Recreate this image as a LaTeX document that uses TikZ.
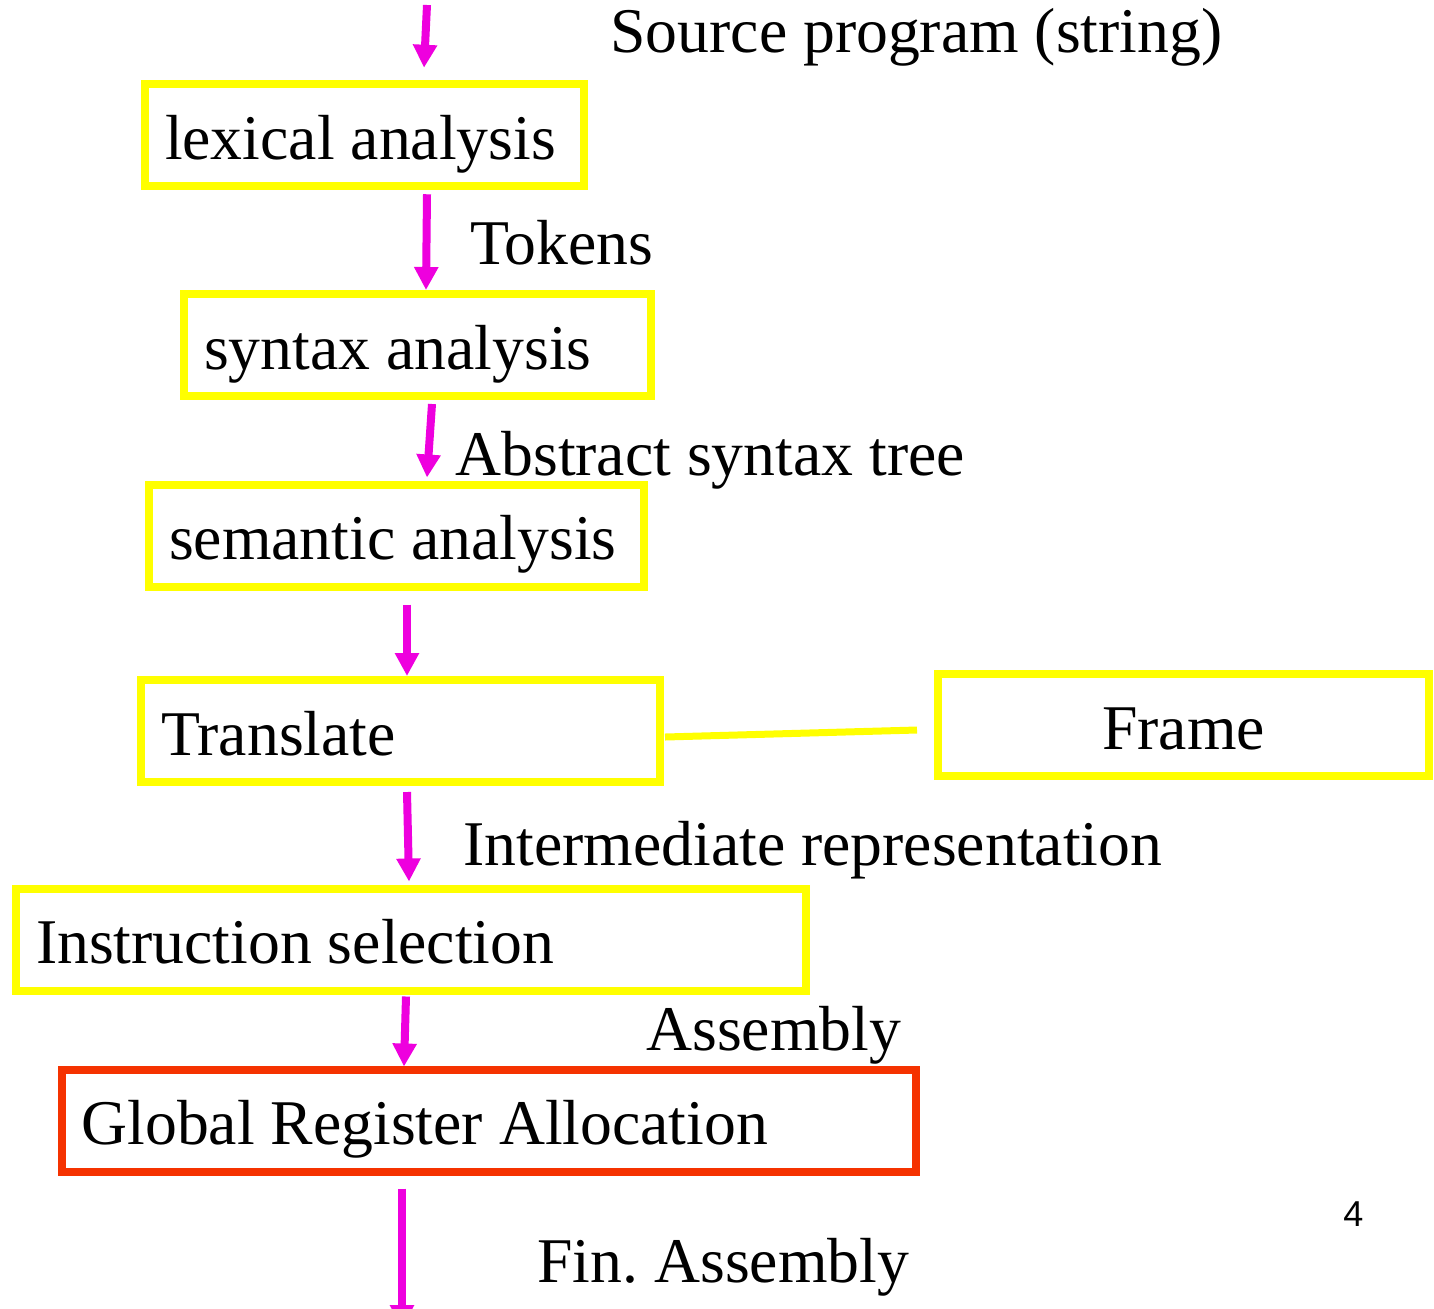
\documentclass[tikz,border=0pt]{standalone}
\usepackage{fontspec}
\setmainfont{Liberation Serif}
\newfontfamily\pagefont{Liberation Sans}
\usetikzlibrary{arrows.meta,calc}
\definecolor{boxyellow}{RGB}{255,255,0}
\definecolor{boxred}{RGB}{245,50,0}
\definecolor{flowmag}{RGB}{238,0,222}
\tikzset{
  stage/.style={draw=boxyellow, line width=4pt, minimum height=51pt, inner xsep=10pt, inner ysep=0pt,
    text height=24pt, text depth=0pt, align=flush left},
  flow/.style={draw=flowmag, line width=4pt, -{Triangle[width=11.5pt,length=11.5pt]}},
  link/.style={draw=boxyellow, line width=3.5pt},
  lbl/.style={anchor=base west, inner sep=0pt},
}
\begin{document}
\frenchspacing
\begin{tikzpicture}[x=0.5pt,y=-0.5pt,font=\fontsize{31.85}{38}\selectfont\frenchspacing]
\useasboundingbox (0,0) rectangle (1434,1308);
\clip (0,0) rectangle (1434,1308);
\fill[white] (0,0) rectangle (1434,1308);

\node[stage, minimum width=219.5pt, text width=199.5pt] (lex) at (364.5,135.25) {lexical analysis};
\node[stage, minimum width=233.5pt, text width=213.5pt] (syn) at (417.5,345) {syntax analysis};
\node[stage, minimum width=247.5pt, text width=227.5pt] (sem) at (396.5,535.5) {semantic analysis};
\node[stage, minimum width=259.5pt, text width=239.5pt] (tr) at (400.5,731) {Translate};
\node[stage, minimum width=245.5pt, text width=225.5pt, align=flush center] (fr) at (1183.5,725) {Frame};
\node[stage, minimum width=395pt, text width=375pt] (ins) at (411,939.5) {Instruction selection};
\node[stage, draw=boxred, minimum width=427pt, text width=407pt] (glob) at (488.5,1120.5) {Global Register Allocation};

\coordinate (src) at (427,5);
\coordinate (out) at (402,1328);

\draw[flow] (src) -- ($(lex.north)+(59.5,-12.5)$);
\draw[flow] ($(lex.south)+(62.5,4)$) -- ($(syn.north)+(8.5,0)$);
\draw[flow] ($(syn.south)+(14.5,4)$) -- ($(sem.north)+(30.5,-3)$);
\draw[flow] ($(sem.south)+(10.5,14)$) -- ($(tr.north)+(6.5,0)$);
\draw[flow] ($(tr.south)+(6.5,6)$) -- ($(ins.north)+(-2,-3)$);
\draw[flow] ($(ins.south)+(-5,2)$) -- ($(glob.north)+(-84.5,1)$);
\draw[flow] ($(glob.south)+(-86.5,13)$) -- (out);

\draw[link] ($(tr.east)+(1,6)$) -- ($(fr.west)+(-17,5)$);

\node[lbl] (tsrc) at (610,52) {Source program (string)};
\node[lbl] (ttok) at (470,264) {Tokens};
\node[lbl] (tast) at (455,475) {Abstract syntax tree};
\node[lbl] (tir) at (463,865) {Intermediate representation};
\node[lbl] (tasm) at (646,1050) {Assembly};
\node[lbl] (tfin) at (537,1282) {Fin. Assembly};
\node[lbl, font=\pagefont\fontsize{18}{20}\selectfont] (pg) at (1343,1226) {4};
\end{tikzpicture}
\end{document}
